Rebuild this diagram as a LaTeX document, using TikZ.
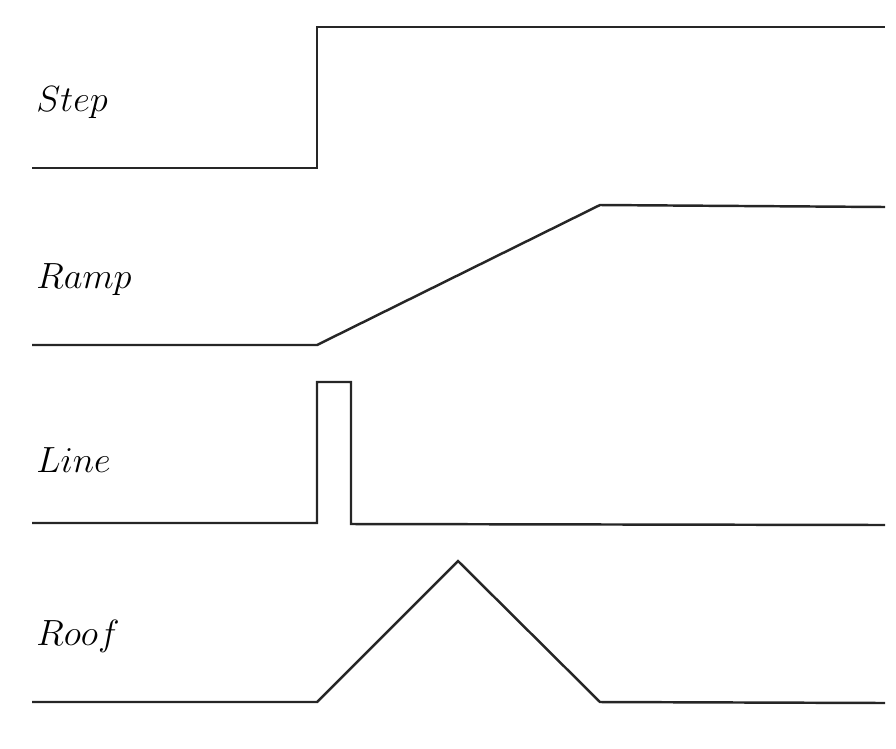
\documentclass[tikz,border=0pt]{standalone}
\usepackage{tikz}
\usepackage{amsmath,amssymb}
\usetikzlibrary{calc}

\begin{document}
\begin{tikzpicture}[
  x=0.02cm, y=-0.02cm,
  profile/.style={line width=1.4pt, black!85, line join=miter},
  lbl/.style={anchor=west, font=\huge, inner sep=0pt},
]
\useasboundingbox (0,0) rectangle (896,748);

% ===== Step =====
\node[lbl] (steplbl) at (36, 103) {$Step$};
\draw[profile] (32, 168) -- (317, 168) -- (317, 27) -- (885, 27);

% ===== Ramp =====
\node[lbl] (ramplbl) at (36, 280) {$Ramp$};
\draw[profile] (32, 345) -- (317, 345) -- (600, 205) -- (885, 207);

% ===== Line =====
\node[lbl] (linelbl) at (36, 460) {$Line$};
\draw[profile] (32, 523) -- (317, 523) -- (317, 382) -- (351, 382)
  -- (351, 524) -- (885, 525);

% ===== Roof =====
\node[lbl] (rooflbl) at (36, 636) {$Roof$};
\draw[profile] (32, 702) -- (317, 702) -- (458, 561) -- (600, 702) -- (885, 703);

\end{tikzpicture}
\end{document}
